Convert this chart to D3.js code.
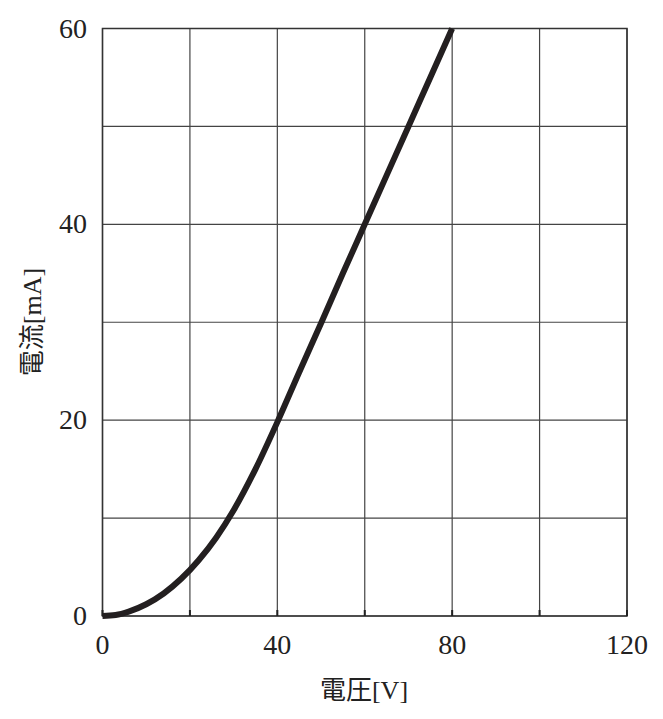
<!DOCTYPE html>
<html>
<head>
<meta charset="utf-8">
<script src="https://cdn.jsdelivr.net/npm/d3@7"></script>
<style>
  body { margin: 0; background: white; }
  text.serif { font-family: "Liberation Serif", "Times New Roman", Times, serif; }
  text.jp { font-family: "Liberation Serif", "Noto Sans CJK JP", serif; }
</style>
</head>
<body>
<div id="container"></div>
<script>
let w = 663;
let h = 719;

// curve: voltage [V] and current [mA]
let voltage = [0, 3, 6, 10, 14, 18, 22, 26, 30, 35, 40, 45, 50, 55, 60, 65, 70, 75, 80];
let current = [0, 0.1, 0.45, 1.2, 2.3, 3.8, 5.7, 8.0, 10.8, 15.0, 19.8, 24.9, 29.9, 35.0, 40.0, 45.0, 50.0, 55.0, 60.0];
let xTicks = [0, 20, 40, 60, 80, 100, 120];
let yTicks = [0, 10, 20, 30, 40, 50, 60];
let xLabels = [0, 40, 80, 120];
let yLabels = [0, 20, 40, 60];

let padLeft = 102.5, padRight = 627, padTop = 28.5, padBottom = 616;

let viz = d3.select("#container")
  .append("svg")
    .attr("width", w)
    .attr("height", h)
    .style("background-color", "white")
;

let xScale = d3.scaleLinear().domain([0, 120]).range([padLeft, padRight]);
let yScale = d3.scaleLinear().domain([0, 60]).range([padBottom, padTop]);

// grid
viz.selectAll(".vgrid").data(xTicks).enter()
  .append("line")
    .attr("x1", d => xScale(d))
    .attr("x2", d => xScale(d))
    .attr("y1", padTop)
    .attr("y2", padBottom)
    .attr("stroke", "#444")
    .attr("stroke-width", 1.2)
;
viz.selectAll(".hgrid").data(yTicks).enter()
  .append("line")
    .attr("x1", padLeft)
    .attr("x2", padRight)
    .attr("y1", d => yScale(d))
    .attr("y2", d => yScale(d))
    .attr("stroke", "#444")
    .attr("stroke-width", 1.2)
;

// frame
viz.append("rect")
  .attr("x", padLeft)
  .attr("y", padTop)
  .attr("width", padRight - padLeft)
  .attr("height", padBottom - padTop)
  .attr("fill", "none")
  .attr("stroke", "#333")
  .attr("stroke-width", 1.5)
;

// small tick marks on the bottom edge
viz.selectAll(".tick").data(xTicks).enter()
  .append("line")
    .attr("x1", d => xScale(d))
    .attr("x2", d => xScale(d))
    .attr("y1", padBottom)
    .attr("y2", padBottom - 6)
    .attr("stroke", "#222")
    .attr("stroke-width", 2)
;

// curve
let pts = voltage.map((v, i) => [v, current[i]]);
let line = d3.line()
  .x(d => xScale(d[0]))
  .y(d => yScale(d[1]))
  .curve(d3.curveMonotoneX);

viz.append("path")
  .datum(pts)
  .attr("d", line)
  .attr("fill", "none")
  .attr("stroke", "#231f20")
  .attr("stroke-width", 6)
  .attr("stroke-linecap", "butt")
;

// tick labels
viz.selectAll(".xlab").data(xLabels).enter()
  .append("text")
    .classed("serif", true)
    .text(d => d)
    .attr("x", d => xScale(d))
    .attr("y", 654)
    .attr("text-anchor", "middle")
    .attr("font-size", 28)
    .attr("fill", "#222")
;
viz.selectAll(".ylab").data(yLabels).enter()
  .append("text")
    .classed("serif", true)
    .text(d => d)
    .attr("x", 87)
    .attr("y", d => yScale(d) + 9)
    .attr("text-anchor", "end")
    .attr("font-size", 28)
    .attr("fill", "#222")
;

// axis titles
viz.append("text")
  .classed("jp", true)
  .text("電圧[V]")
  .attr("x", 364)
  .attr("y", 699)
  .attr("text-anchor", "middle")
  .attr("font-size", 26)
  .attr("fill", "#222")
;
viz.append("text")
  .classed("jp", true)
  .text("電流[mA]")
  .attr("transform", "translate(41,322) rotate(-90)")
  .attr("text-anchor", "middle")
  .attr("font-size", 26)
  .attr("fill", "#222")
;
</script>
</body>
</html>
